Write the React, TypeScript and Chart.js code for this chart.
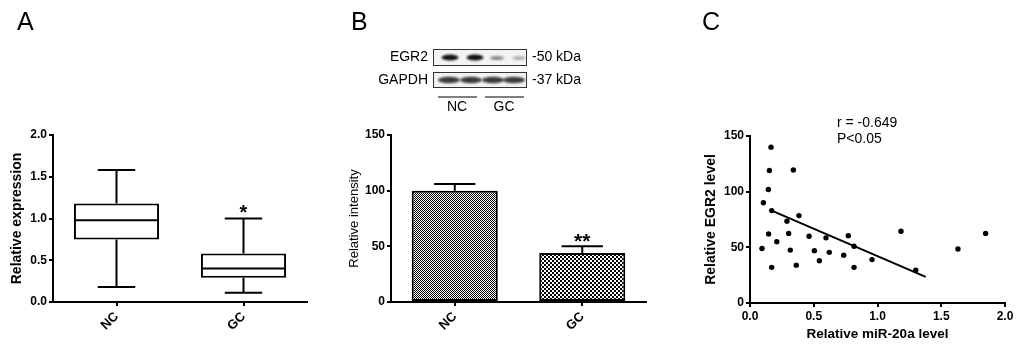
import React, { useEffect, useRef } from "react";
import { Chart, registerables } from "chart.js";

Chart.register(...registerables);

const FONT = "Arial, 'Liberation Sans', Helvetica, sans-serif";

// ---------- Panel A: box plot ----------
const groups = ["NC", "GC"];
const boxMin = [0.18, 0.11];
const boxQ1 = [0.75, 0.29];
const boxMedian = [0.98, 0.4];
const boxQ3 = [1.18, 0.58];
const boxMax = [1.58, 1.0];
const boxSig = ["", "*"];
const aTickStep = 0.5;
const aMax = 2.0;

// ---------- Panel B: bar chart ----------
const intensityMean = [100, 44];
const intensityErr = [6, 6];
const barSig = ["", "**"];
const bTickStep = 50;
const bMax = 150;
const blotRows = ["EGR2", "GAPDH"];
const blotSizes = ["-50 kDa", "-37 kDa"];

// ---------- Panel C: scatter ----------
const mirX = [0.165, 0.152, 0.144, 0.105, 0.17, 0.094, 0.146, 0.17, 0.21, 0.29, 0.303, 0.316, 0.34, 0.363, 0.384, 0.463, 0.505, 0.544, 0.596, 0.622, 0.735, 0.771, 0.816, 0.816, 0.957, 1.184, 1.3, 1.631, 1.848];
const egrY = [140, 119, 102, 90, 83, 49, 62, 32, 55, 73.5, 62.5, 47.5, 119.5, 34, 78.5, 60, 47, 38, 58.5, 45.5, 43, 60.5, 51, 32, 39, 64.5, 29.5, 48.5, 62.5];
const fitX = [0.17, 1.378];
const fitY = [83, 23.5];
const corrText = ["r = -0.649", "P<0.05"];
const cTickStepX = 0.5;
const cTickStepY = 50;

function axisCommon(size = 12) {
  return {
    grid: {
      display: true,
      drawOnChartArea: false,
      drawTicks: true,
      tickLength: 4,
      color: "#000",
      lineWidth: 2,
    },
    border: { display: true, color: "#000", width: 2 },
    ticks: {
      color: "#000",
      font: { family: FONT, size, weight: "bold" as const },
      padding: 2,
    },
  };
}

function categoryX(height: number) {
  const c = axisCommon(13);
  return {
    type: "category" as const,
    offset: true,
    grid: { ...c.grid, offset: false },
    border: c.border,
    ticks: { ...c.ticks, minRotation: 45, maxRotation: 45, autoSkip: false, padding: 3 },
    afterFit: (s: any) => {
      s.height = height;
    },
  };
}

function makeChecker(cell: number) {
  const c = document.createElement("canvas");
  c.width = cell * 2;
  c.height = cell * 2;
  const g = c.getContext("2d")!;
  g.fillStyle = "#fff";
  g.fillRect(0, 0, cell * 2, cell * 2);
  g.fillStyle = "#000";
  g.fillRect(0, 0, cell, cell);
  g.fillRect(cell, cell, cell, cell);
  return g.createPattern(c, "repeat")!;
}

export default function App() {
  const aRef = useRef<HTMLCanvasElement>(null);
  const bRef = useRef<HTMLCanvasElement>(null);
  const cRef = useRef<HTMLCanvasElement>(null);

  useEffect(() => {
    const charts: Chart[] = [];

    // ---------------- A ----------------
    const boxPlugin = {
      id: "boxWhiskers",
      afterDatasetsDraw(chart: any) {
        const { ctx, scales } = chart;
        const y = scales.y;
        const meta = chart.getDatasetMeta(0);
        ctx.save();
        ctx.strokeStyle = "#000";
        ctx.lineWidth = 2;
        groups.forEach((_, i) => {
          const bar = meta.data[i];
          const cx = bar.x;
          const w = bar.width;
          const cap = w * 0.22;
          const yMed = y.getPixelForValue(boxMedian[i]);
          const yQ1 = y.getPixelForValue(boxQ1[i]);
          const yQ3 = y.getPixelForValue(boxQ3[i]);
          const yMin = y.getPixelForValue(boxMin[i]);
          const yMax = y.getPixelForValue(boxMax[i]);
          ctx.beginPath();
          ctx.moveTo(cx - w / 2, yMed);
          ctx.lineTo(cx + w / 2, yMed);
          ctx.moveTo(cx, yQ3);
          ctx.lineTo(cx, yMax);
          ctx.moveTo(cx - cap, yMax);
          ctx.lineTo(cx + cap, yMax);
          ctx.moveTo(cx, yQ1);
          ctx.lineTo(cx, yMin);
          ctx.moveTo(cx - cap, yMin);
          ctx.lineTo(cx + cap, yMin);
          ctx.stroke();
          if (boxSig[i]) {
            ctx.fillStyle = "#000";
            ctx.font = `bold 20px ${FONT}`;
            ctx.textAlign = "center";
            ctx.textBaseline = "middle";
            ctx.fillText(boxSig[i], cx, yMax - 5);
          }
        });
        ctx.restore();
      },
    };

    const yA = axisCommon(12);
    charts.push(
      new Chart(aRef.current!, {
        type: "bar",
        data: {
          labels: groups,
          datasets: [
            {
              data: groups.map((_, i) => [boxQ1[i], boxQ3[i]]) as any,
              backgroundColor: "#fff",
              borderColor: "#000",
              borderWidth: 2,
              borderSkipped: false,
              categoryPercentage: 1,
              barPercentage: 0.67,
            },
          ],
        },
        options: {
          responsive: false,
          animation: false,
          layout: { padding: { left: 0, right: 33, top: 135, bottom: 0 } },
          plugins: { legend: { display: false }, tooltip: { enabled: false } },
          scales: {
            x: categoryX(48) as any,
            y: {
              min: 0,
              max: aMax,
              grid: yA.grid,
              border: yA.border,
              ticks: {
                ...yA.ticks,
                stepSize: aTickStep,
                callback: (v: any) => Number(v).toFixed(1),
              },
              title: {
                display: true,
                text: "Relative expression",
                color: "#000",
                font: { family: FONT, size: 14, weight: "bold" },
                padding: { top: 9, bottom: 0 },
              },
              afterFit: (s: any) => {
                s.width = 53;
              },
            } as any,
          },
        },
        plugins: [boxPlugin],
      })
    );

    // ---------------- B ----------------
    const fine = makeChecker(1);
    const coarse = makeChecker(2);
    const errPlugin = {
      id: "errorBars",
      afterDatasetsDraw(chart: any) {
        const { ctx, scales } = chart;
        const y = scales.y;
        const meta = chart.getDatasetMeta(0);
        ctx.save();
        ctx.strokeStyle = "#000";
        ctx.lineWidth = 2;
        groups.forEach((_, i) => {
          const bar = meta.data[i];
          const cx = bar.x;
          const cap = bar.width * 0.24;
          const yTop = y.getPixelForValue(intensityMean[i] + intensityErr[i]);
          const yVal = y.getPixelForValue(intensityMean[i]);
          ctx.beginPath();
          ctx.moveTo(cx, yVal);
          ctx.lineTo(cx, yTop);
          ctx.moveTo(cx - cap, yTop);
          ctx.lineTo(cx + cap, yTop);
          ctx.stroke();
          if (barSig[i]) {
            ctx.fillStyle = "#000";
            ctx.font = `bold 21px ${FONT}`;
            ctx.textAlign = "center";
            ctx.textBaseline = "middle";
            ctx.fillText(barSig[i], cx, yTop - 4);
          }
        });
        ctx.restore();
      },
    };
    const blotPlugin = {
      id: "blot",
      afterDraw(chart: any) {
        const ctx = chart.ctx as CanvasRenderingContext2D;
        ctx.save();
        const bx = 93;
        const bw = 94;
        const rowsY = [49, 72];
        const rowH = [17, 16];
        rowsY.forEach((ry, r) => {
          ctx.fillStyle = "#f3f3f3";
          ctx.fillRect(bx, ry, bw, rowH[r]);
          ctx.strokeStyle = "#333";
          ctx.lineWidth = 1;
          ctx.strokeRect(bx + 0.5, ry + 0.5, bw - 1, rowH[r] - 1);
        });
        const band = (cx: number, cy: number, rw: number, rh: number, col: string) => {
          ctx.fillStyle = col;
          ctx.beginPath();
          ctx.ellipse(cx, cy, rw, rh, 0, 0, Math.PI * 2);
          ctx.fill();
        };
        ctx.filter = "blur(0.8px)";
        band(110, 57.5, 8.5, 3, "#111");
        band(135, 57.5, 8.5, 3, "#111");
        band(157, 58, 7, 2, "#8a8a8a");
        band(179, 58, 6.5, 2, "#b0b0b0");
        [109, 131, 153, 174].forEach((cx) => band(cx, 80, 11, 3.2, "#3a3a3a"));
        ctx.filter = "none";
        ctx.fillStyle = "#000";
        ctx.font = `14px ${FONT}`;
        ctx.textBaseline = "middle";
        ctx.textAlign = "right";
        ctx.fillText(blotRows[0], 88, 57.5);
        ctx.fillText(blotRows[1], 88, 80.5);
        ctx.textAlign = "left";
        ctx.fillText(blotSizes[0], 192, 57.5);
        ctx.fillText(blotSizes[1], 192, 80.5);
        ctx.strokeStyle = "#555";
        ctx.lineWidth = 1.5;
        ctx.beginPath();
        ctx.moveTo(98, 97);
        ctx.lineTo(137, 97);
        ctx.moveTo(145, 97);
        ctx.lineTo(184, 97);
        ctx.stroke();
        ctx.textAlign = "center";
        ctx.fillText(groups[0], 117, 107);
        ctx.fillText(groups[1], 164, 107);
        ctx.restore();
      },
    };
    const yB = axisCommon(12);
    charts.push(
      new Chart(bRef.current!, {
        type: "bar",
        data: {
          labels: groups,
          datasets: [
            {
              data: intensityMean,
              backgroundColor: [fine, coarse] as any,
              borderColor: "#000",
              borderWidth: 2,
              borderSkipped: false,
              categoryPercentage: 1,
              barPercentage: 0.675,
            },
          ],
        },
        options: {
          responsive: false,
          animation: false,
          layout: { padding: { left: 0, right: 34, top: 135, bottom: 0 } },
          plugins: { legend: { display: false }, tooltip: { enabled: false } },
          scales: {
            x: categoryX(48) as any,
            y: {
              min: 0,
              max: bMax,
              grid: yB.grid,
              border: yB.border,
              ticks: { ...yB.ticks, stepSize: bTickStep },
              title: {
                display: true,
                text: "Relative intensity",
                color: "#000",
                font: { family: FONT, size: 13, weight: "normal" },
                padding: { top: 7, bottom: 0 },
              },
              afterFit: (s: any) => {
                s.width = 51;
              },
            } as any,
          },
        },
        plugins: [errPlugin, blotPlugin],
      })
    );

    // ---------------- C ----------------
    const corrPlugin = {
      id: "corrText",
      afterDraw(chart: any) {
        const ctx = chart.ctx as CanvasRenderingContext2D;
        ctx.save();
        ctx.fillStyle = "#000";
        ctx.font = `14px ${FONT}`;
        ctx.textAlign = "left";
        ctx.textBaseline = "middle";
        ctx.fillText(corrText[0], 157, 123);
        ctx.fillText(corrText[1], 157, 139);
        ctx.restore();
      },
    };
    const xC = axisCommon(12);
    const yC = axisCommon(12);
    charts.push(
      new Chart(cRef.current!, {
        type: "scatter",
        data: {
          datasets: [
            {
              data: mirX.map((x, i) => ({ x, y: egrY[i] })),
              backgroundColor: "#000",
              borderWidth: 0,
              pointRadius: 2.7,
            },
            {
              type: "line",
              data: fitX.map((x, i) => ({ x, y: fitY[i] })),
              borderColor: "#000",
              borderWidth: 2,
              pointRadius: 0,
              showLine: true,
              fill: false,
            } as any,
          ],
        },
        options: {
          responsive: false,
          animation: false,
          layout: { padding: { left: 0, right: 19, top: 136, bottom: 0 } },
          plugins: { legend: { display: false }, tooltip: { enabled: false } },
          scales: {
            x: {
              type: "linear",
              min: 0,
              max: 2,
              grid: xC.grid,
              border: xC.border,
              ticks: {
                ...xC.ticks,
                stepSize: cTickStepX,
                callback: (v: any) => Number(v).toFixed(1),
              },
              title: {
                display: true,
                text: "Relative miR-20a level",
                color: "#000",
                font: { family: FONT, size: 13.5, weight: "bold" },
                padding: { top: 0, bottom: 8 },
              },
              afterFit: (s: any) => {
                s.height = 47;
              },
            } as any,
            y: {
              min: 0,
              max: 150,
              grid: yC.grid,
              border: yC.border,
              ticks: { ...yC.ticks, stepSize: cTickStepY },
              title: {
                display: true,
                text: "Relative EGR2 level",
                color: "#000",
                font: { family: FONT, size: 14, weight: "bold" },
                padding: { top: 23, bottom: 0 },
              },
              afterFit: (s: any) => {
                s.width = 70;
              },
            } as any,
          },
        },
        plugins: [corrPlugin],
      })
    );

    return () => charts.forEach((c) => c.destroy());
  }, []);

  const letter = (t: string, left: number) => (
    <div
      style={{
        position: "absolute",
        left,
        top: 9,
        fontFamily: FONT,
        fontSize: 25,
        lineHeight: "25px",
        color: "#000",
      }}
    >
      {t}
    </div>
  );

  return (
    <div
      style={{
        position: "absolute",
        left: 0,
        top: 0,
        width: 1024,
        height: 350,
        background: "#fff",
        overflow: "hidden",
      }}
    >
      <canvas ref={aRef} width={340} height={350} style={{ position: "absolute", left: 0, top: 0, width: 340, height: 350 }} />
      <canvas ref={bRef} width={340} height={350} style={{ position: "absolute", left: 340, top: 0, width: 340, height: 350 }} />
      <canvas ref={cRef} width={344} height={350} style={{ position: "absolute", left: 680, top: 0, width: 344, height: 350 }} />
      {letter("A", 17)}
      {letter("B", 351)}
      {letter("C", 702)}
    </div>
  );
}
